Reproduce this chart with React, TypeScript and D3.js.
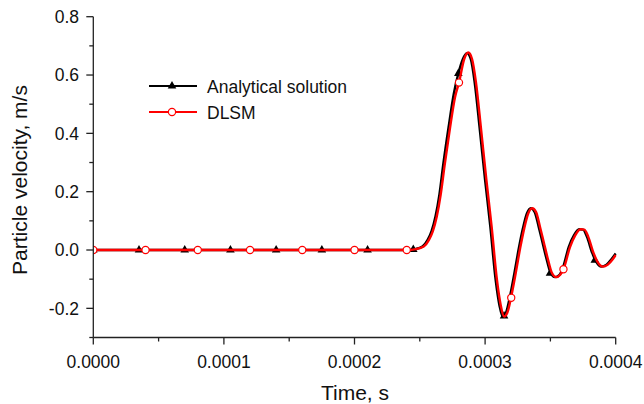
import React from "react";
import * as d3 from "d3";

// time in units of 1e-4 s, velocity in m/s
const analyticalT = [0, 2.40, 2.46, 2.52, 2.56, 2.59, 2.62, 2.65, 2.68, 2.72, 2.76, 2.795, 2.83, 2.86, 2.89, 2.92, 2.96, 3.00, 3.04, 3.08, 3.11, 3.135, 3.16, 3.19, 3.22, 3.26, 3.29, 3.32, 3.35, 3.38, 3.41, 3.44, 3.47, 3.50, 3.535, 3.57, 3.60, 3.64, 3.68, 3.72, 3.75, 3.78, 3.82, 3.85, 3.89, 3.93, 3.97, 4.00];
const analyticalV = [0, 0, 0.003, 0.012, 0.035, 0.065, 0.115, 0.19, 0.295, 0.42, 0.535, 0.605, 0.655, 0.675, 0.655, 0.575, 0.41, 0.24, 0.08, -0.10, -0.19, -0.228, -0.215, -0.16, -0.09, 0.01, 0.075, 0.125, 0.143, 0.13, 0.08, 0.025, -0.03, -0.077, -0.093, -0.085, -0.055, 0.01, 0.05, 0.071, 0.07, 0.045, -0.01, -0.04, -0.057, -0.05, -0.03, -0.012];

const dlsmT = [0, 2.40, 2.47, 2.53, 2.57, 2.60, 2.63, 2.66, 2.69, 2.73, 2.77, 2.80, 2.84, 2.871, 2.90, 2.93, 2.97, 3.01, 3.05, 3.09, 3.12, 3.145, 3.17, 3.198, 3.23, 3.27, 3.30, 3.33, 3.36, 3.39, 3.42, 3.45, 3.48, 3.51, 3.545, 3.575, 3.60, 3.65, 3.69, 3.73, 3.76, 3.79, 3.83, 3.86, 3.90, 3.94, 3.98, 4.00];
const dlsmV = [0, 0, 0.003, 0.012, 0.035, 0.065, 0.115, 0.19, 0.29, 0.415, 0.525, 0.574, 0.655, 0.677, 0.655, 0.575, 0.41, 0.24, 0.08, -0.10, -0.19, -0.228, -0.215, -0.164, -0.09, 0.01, 0.075, 0.125, 0.143, 0.13, 0.08, 0.025, -0.03, -0.077, -0.093, -0.085, -0.066, 0.01, 0.05, 0.071, 0.07, 0.045, -0.01, -0.04, -0.057, -0.05, -0.03, -0.017];

const analyticalMarkT = [0, 0.35, 0.70, 1.05, 1.40, 1.75, 2.10, 2.45, 2.795, 3.145, 3.497, 3.84];
const analyticalMarkV = [0, 0, 0, 0, 0, 0, 0, 0.002, 0.605, -0.226, -0.08, -0.035];
const dlsmMarkT = [0, 0.4, 0.8, 1.2, 1.6, 2.0, 2.4, 2.8, 3.2, 3.6];
const dlsmMarkV = [0, 0, 0, 0, 0, 0, 0, 0.574, -0.164, -0.066];

const xTicks = [0, 1, 2, 3, 4];
const xTickLabels = ["0.0000", "0.0001", "0.0002", "0.0003", "0.0004"];
const xMinor = [0.5, 1.5, 2.5, 3.5];
const yTicks = [-0.2, 0, 0.2, 0.4, 0.6, 0.8];
const yTickLabels = ["-0.2", "0.0", "0.2", "0.4", "0.6", "0.8"];
const yMinor = [-0.3, -0.1, 0.1, 0.3, 0.5, 0.7];

const seriesNames = ["Analytical solution", "DLSM"];

const FONT = "'Liberation Sans', Arial, Helvetica, sans-serif";

export default function App() {
  const W = 644, H = 404;
  const x = d3.scaleLinear().domain([0, 4]).range([93.3, 615.7]);
  const y = d3.scaleLinear().domain([-0.3, 0.8]).range([337.5, 16.7]);

  const line = d3
    .line<[number, number]>()
    .x((d) => x(d[0]))
    .y((d) => y(d[1]))
    .curve(d3.curveMonotoneX);

  const aData: [number, number][] = analyticalT.map((t, i) => [t, analyticalV[i]]);
  const dData: [number, number][] = dlsmT.map((t, i) => [t, dlsmV[i]]);

  const tri = d3.symbol().type(d3.symbolTriangle).size(32)() as string;

  const axisColor = "#222";
  const x0 = x.range()[0], x1 = x.range()[1];
  const yb = y.range()[0], yt = y.range()[1];

  return (
    <svg width={W} height={H} style={{ position: "absolute", left: 0, top: 0, background: "#fff" }}>
      <defs>
        <clipPath id="plotClip">
          <rect x={x0} y={yt - 10} width={x1 - x0 + 1} height={yb - yt + 10} />
        </clipPath>
      </defs>

      {/* series */}
      <g clipPath="url(#plotClip)">
        <path d={line(aData) as string} fill="none" stroke="#000" strokeWidth={2.4} />
        {analyticalMarkT.map((t, i) => (
          <path key={"a" + i} d={tri} transform={`translate(${x(t)},${y(analyticalMarkV[i])})`} fill="#000" />
        ))}
        <path d={line(dData) as string} fill="none" stroke="#ff0000" strokeWidth={2.4} />
        {dlsmMarkT.map((t, i) => (
          <circle key={"d" + i} cx={x(t)} cy={y(dlsmMarkV[i])} r={3.6} fill="#fff" stroke="#ff0000" strokeWidth={1.2} />
        ))}
      </g>

      {/* axes */}
      <line x1={x0} x2={x1} y1={yb} y2={yb} stroke={axisColor} strokeWidth={1.3} />
      <line x1={x0} x2={x0} y1={yt} y2={yb} stroke={axisColor} strokeWidth={1.3} />
      {xTicks.map((t, i) => (
        <g key={"xt" + i}>
          <line x1={x(t)} x2={x(t)} y1={yb} y2={yb + 7} stroke={axisColor} strokeWidth={1.3} />
          <text x={x(t)} y={368} textAnchor="middle" fontFamily={FONT} fontSize={17.5} fill="#111">
            {xTickLabels[i]}
          </text>
        </g>
      ))}
      {xMinor.map((t, i) => (
        <line key={"xm" + i} x1={x(t)} x2={x(t)} y1={yb} y2={yb + 4} stroke={axisColor} strokeWidth={1.3} />
      ))}
      {yTicks.map((v, i) => (
        <g key={"yt" + i}>
          <line x1={x0 - 7} x2={x0} y1={y(v)} y2={y(v)} stroke={axisColor} strokeWidth={1.3} />
          <text x={79} y={y(v) + 6.3} textAnchor="end" fontFamily={FONT} fontSize={17.5} fill="#111">
            {yTickLabels[i]}
          </text>
        </g>
      ))}
      {yMinor.map((v, i) => (
        <line key={"ym" + i} x1={x0 - 4} x2={x0} y1={y(v)} y2={y(v)} stroke={axisColor} strokeWidth={1.3} />
      ))}

      {/* axis titles */}
      <text x={355} y={400} textAnchor="middle" fontFamily={FONT} fontSize={21} fill="#111">
        Time, s
      </text>
      <text
        transform={`translate(26.5,180) rotate(-90)`}
        textAnchor="middle"
        fontFamily={FONT}
        fontSize={21}
        fill="#111"
      >
        Particle velocity, m/s
      </text>

      {/* legend */}
      <g>
        <line x1={149} x2={197} y1={86} y2={86} stroke="#000" strokeWidth={2} />
        <path d={tri} transform="translate(172,86)" fill="#000" />
        <text x={207} y={92.5} fontFamily={FONT} fontSize={17.5} fill="#111">
          {seriesNames[0]}
        </text>
        <line x1={149} x2={197} y1={112} y2={112} stroke="#ff0000" strokeWidth={2} />
        <circle cx={172} cy={112} r={3.6} fill="#fff" stroke="#ff0000" strokeWidth={1.2} />
        <text x={207} y={118.5} fontFamily={FONT} fontSize={17.5} fill="#111">
          {seriesNames[1]}
        </text>
      </g>
    </svg>
  );
}
